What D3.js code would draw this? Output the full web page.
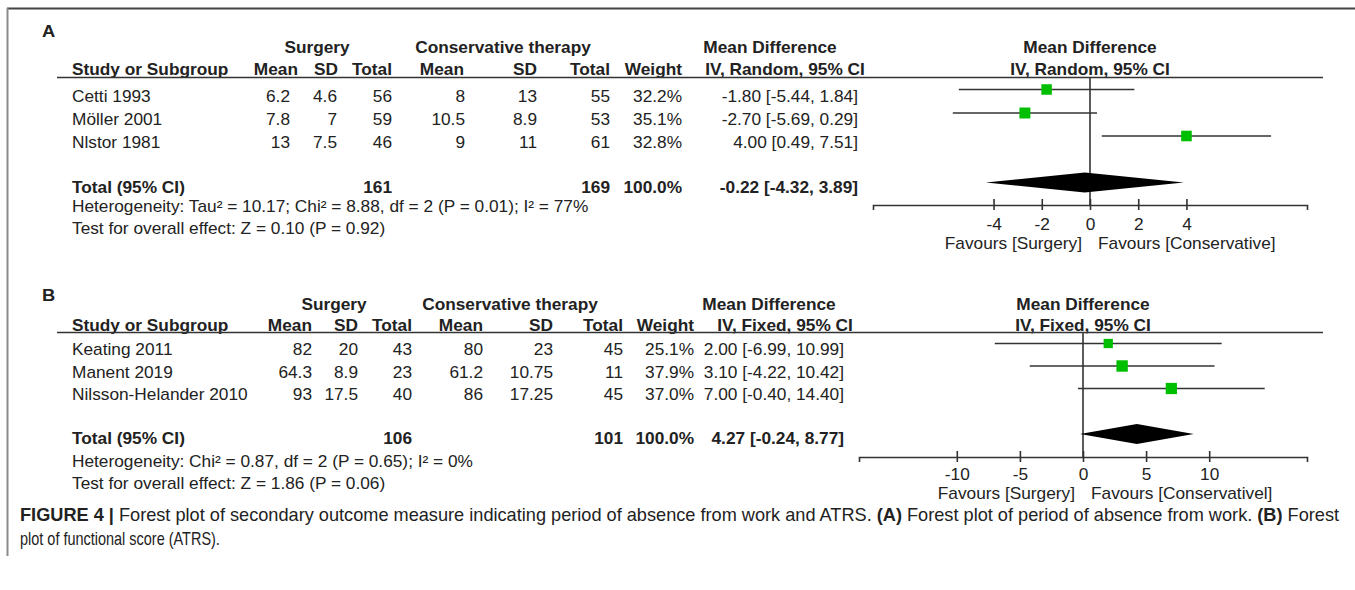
<!DOCTYPE html>
<html>
<head>
<meta charset="utf-8">
<script src="https://cdn.jsdelivr.net/npm/d3@7"></script>
<style>
  body { margin: 0; background: #fff; }
  svg { display: block; }
  text { font-family: "Liberation Sans", Arial, Helvetica, sans-serif; fill: #222; }
</style>
</head>
<body>
<svg id="chart" width="1355" height="590"></svg>
<script>
// ---------- Panel A: period of absence from work ----------
const studiesA   = ["Cetti 1993", "Möller 2001", "Nlstor 1981"];
const surgMeanA  = [6.2, 7.8, 13];
const surgSdA    = [4.6, 7, 7.5];
const surgNA     = [56, 59, 46];
const consMeanA  = [8, 10.5, 9];
const consSdA    = [13, 8.9, 11];
const consNA     = [55, 53, 61];
const weightA    = [32.2, 35.1, 32.8];
const mdA        = [-1.80, -2.70, 4.00];
const loA        = [-5.44, -5.69, 0.49];
const hiA        = [1.84, 0.29, 7.51];
const totalNA    = [161, 169];          // surgery, conservative
const pooledA    = [-0.22, -4.32, 3.89]; // estimate, lower, upper
const ticksA     = [-4, -2, 0, 2, 4];
const methodA    = "IV, Random, 95% CI";
const hetA       = "Heterogeneity: Tau² = 10.17; Chi² = 8.88, df = 2 (P = 0.01); I² = 77%";
const effectA    = "Test for overall effect: Z = 0.10 (P = 0.92)";
const favoursA   = ["Favours [Surgery]", "Favours [Conservative]"];

// ---------- Panel B: functional score (ATRS) ----------
const studiesB   = ["Keating 2011", "Manent 2019", "Nilsson-Helander 2010"];
const surgMeanB  = [82, 64.3, 93];
const surgSdB    = [20, 8.9, 17.5];
const surgNB     = [43, 23, 40];
const consMeanB  = [80, 61.2, 86];
const consSdB    = [23, 10.75, 17.25];
const consNB     = [45, 11, 45];
const weightB    = [25.1, 37.9, 37.0];
const mdB        = [2.00, 3.10, 7.00];
const loB        = [-6.99, -4.22, -0.40];
const hiB        = [10.99, 10.42, 14.40];
const totalNB    = [106, 101];
const pooledB    = [4.27, -0.24, 8.77];
const ticksB     = [-10, -5, 0, 5, 10];
const methodB    = "IV, Fixed, 95% CI";
const hetB       = "Heterogeneity: Chi² = 0.87, df = 2 (P = 0.65); I² = 0%";
const effectB    = "Test for overall effect: Z = 1.86 (P = 0.06)";
const favoursB   = ["Favours [Surgery]", "Favours [Conservativel]"];

// ---------- layout ----------
const SX = 1.08;   // slight horizontal stretch of the lettering
const FS = 16;
const INK = "#222";
const LINE = "#333";
const BOX = "#00bf00";

const svg = d3.select("#chart");

function label(g, x, y, s, anchor = "start", bold = false, size = FS) {
  return g.append("text")
    .attr("transform", `translate(${x},${y}) scale(${SX},1)`)
    .attr("text-anchor", anchor)
    .attr("font-size", size)
    .attr("font-weight", bold ? "bold" : "normal")
    .text(s);
}

// plain hyphen-minus for negatives, two decimals
const f2 = v => (v < 0 ? "-" : "") + Math.abs(v).toFixed(2);
const ci = (m, l, h) => `${f2(m)} [${f2(l)}, ${f2(h)}]`;

function drawPanel(d, c) {
  const g = svg.append("g");
  const x = d3.scaleLinear().domain(c.domain).range(c.range);
  const x0 = x(0);

  // panel letter
  label(g, c.letterX, c.letterY, c.letter, "start", true, 17).attr("fill", "#000");

  // group headings
  label(g, c.surgHead, c.head1Y, "Surgery", "middle", true);
  label(g, c.consHead, c.head1Y, "Conservative therapy", "middle", true);
  label(g, c.mdHead, c.head1Y, "Mean Difference", "middle", true);
  label(g, x0, c.head1Y, "Mean Difference", "middle", true);

  // column headings
  label(g, c.studyX, c.head2Y, "Study or Subgroup", "start", true);
  label(g, c.hMean1, c.head2Y, "Mean", "end", true);
  label(g, c.hSd1, c.head2Y, "SD", "end", true);
  label(g, c.colN1, c.head2Y, "Total", "end", true);
  label(g, c.hMean2, c.head2Y, "Mean", "end", true);
  label(g, c.colSd2, c.head2Y, "SD", "end", true);
  label(g, c.colN2, c.head2Y, "Total", "end", true);
  label(g, c.colW, c.head2Y, "Weight", "end", true);
  label(g, c.mdSub, c.head2Y, d.method, "middle", true);
  label(g, x0, c.head2Y, d.method, "middle", true);

  // heading rule
  g.append("line")
    .attr("x1", c.ruleX[0]).attr("x2", c.ruleX[1])
    .attr("y1", c.ruleY).attr("y2", c.ruleY)
    .attr("stroke", LINE).attr("stroke-width", 1.6);

  // study rows
  d.studies.forEach((s, i) => {
    const y = c.rowY[i];
    label(g, c.studyX, y, s);
    label(g, c.colMean1, y, String(d.surgMean[i]), "end");
    label(g, c.colSd1, y, String(d.surgSd[i]), "end");
    label(g, c.colN1, y, String(d.surgN[i]), "end");
    label(g, c.colMean2, y, String(d.consMean[i]), "end");
    label(g, c.colSd2, y, String(d.consSd[i]), "end");
    label(g, c.colN2, y, String(d.consN[i]), "end");
    label(g, c.colW, y, d.weight[i].toFixed(1) + "%", "end");
    label(g, c.colMd, y, ci(d.md[i], d.lo[i], d.hi[i]), "end");
  });

  // totals
  label(g, c.studyX, c.totalY, "Total (95% CI)", "start", true);
  label(g, c.colN1, c.totalY, String(d.totalN[0]), "end", true);
  label(g, c.colN2, c.totalY, String(d.totalN[1]), "end", true);
  label(g, c.colW, c.totalY, "100.0%", "end", true);
  label(g, c.colMd, c.totalY, ci(d.pooled[0], d.pooled[1], d.pooled[2]), "end", true);
  label(g, c.studyX, c.hetY, d.het);
  label(g, c.studyX, c.effectY, d.effect);

  // line of no effect
  g.append("line")
    .attr("x1", x0).attr("x2", x0)
    .attr("y1", c.ruleY).attr("y2", c.axisY)
    .attr("stroke", LINE).attr("stroke-width", 1.6);

  // confidence intervals and weighted boxes
  const rows = d.studies.map((s, i) => ({ md: d.md[i], lo: d.lo[i], hi: d.hi[i], w: d.weight[i], y: c.rowY[i] + c.markDy }));
  g.selectAll(".ci").data(rows).join("line")
    .attr("x1", r => x(r.lo)).attr("x2", r => x(r.hi))
    .attr("y1", r => r.y).attr("y2", r => r.y)
    .attr("stroke", LINE).attr("stroke-width", 1.6);
  const side = w => Math.sqrt(w) * 1.85;
  g.selectAll(".box").data(rows).join("rect")
    .attr("x", r => x(r.md) - side(r.w) / 2)
    .attr("y", r => r.y - side(r.w) / 2)
    .attr("width", r => side(r.w)).attr("height", r => side(r.w))
    .attr("fill", BOX);

  // pooled diamond
  const dy = c.totalY + c.diamDy, h = 10;
  const [pm, pl, ph] = d.pooled;
  g.append("path")
    .attr("d", `M${x(pl)},${dy}L${x(pm)},${dy - h}L${x(ph)},${dy}L${x(pm)},${dy + h}Z`)
    .attr("fill", "#000");

  // axis
  const axis = d3.axisBottom(x).tickValues(d.ticks).tickSizeOuter(0).tickSize(5);
  const ag = g.append("g").attr("transform", `translate(0,${c.axisY})`).call(axis)
    .attr("font-family", null).attr("font-size", null);
  ag.select(".domain").attr("stroke", LINE).attr("stroke-width", 1.6);
  ag.selectAll(".tick line").attr("y1", -6).attr("y2", 5).attr("stroke", LINE).attr("stroke-width", 1.6);
  ag.selectAll(".tick text")
    .attr("y", null).attr("dy", null)
    .attr("transform", `translate(0,${c.tickY - c.axisY}) scale(${SX},1)`)
    .attr("font-size", FS).attr("fill", INK)
    .text(v => (v < 0 ? "-" : "") + Math.abs(v));

  label(g, x0 - 8, c.favY, d.favours[0], "end");
  label(g, x0 + 8, c.favY, d.favours[1], "start");
}

// frame
svg.append("line").attr("x1", 7).attr("x2", 1355).attr("y1", 8.5).attr("y2", 8.5)
  .attr("stroke", "#444").attr("stroke-width", 2);
svg.append("line").attr("x1", 7.5).attr("x2", 7.5).attr("y1", 8).attr("y2", 556)
  .attr("stroke", "#8a8a8a").attr("stroke-width", 2);

drawPanel(
  { studies: studiesA, surgMean: surgMeanA, surgSd: surgSdA, surgN: surgNA,
    consMean: consMeanA, consSd: consSdA, consN: consNA, weight: weightA,
    md: mdA, lo: loA, hi: hiA, totalN: totalNA, pooled: pooledA, ticks: ticksA,
    method: methodA, het: hetA, effect: effectA, favours: favoursA },
  { letter: "A", letterX: 42, letterY: 37,
    head1Y: 53, head2Y: 75, ruleY: 77.5, ruleX: [57, 1323],
    rowY: [101.5, 125, 148], totalY: 192.5, hetY: 212, effectY: 234,
    studyX: 72, surgHead: 317, consHead: 503, mdHead: 770, mdSub: 785,
    hMean1: 298, hSd1: 338, colMean1: 290, colSd1: 337, colN1: 392,
    hMean2: 464, colMean2: 465, colSd2: 537, colN2: 610, colW: 682, colMd: 858,
    domain: [-9, 9], range: [873, 1307], axisY: 205, tickY: 230, favY: 248.5,
    markDy: -12, diamDy: -10 });

drawPanel(
  { studies: studiesB, surgMean: surgMeanB, surgSd: surgSdB, surgN: surgNB,
    consMean: consMeanB, consSd: consSdB, consN: consNB, weight: weightB,
    md: mdB, lo: loB, hi: hiB, totalN: totalNB, pooled: pooledB, ticks: ticksB,
    method: methodB, het: hetB, effect: effectB, favours: favoursB },
  { letter: "B", letterX: 42, letterY: 301,
    head1Y: 310, head2Y: 330.5, ruleY: 332.5, ruleX: [57, 1323],
    rowY: [355, 377.5, 400], totalY: 444, hetY: 466.5, effectY: 488.5,
    studyX: 72, surgHead: 334, consHead: 510, mdHead: 769, mdSub: 785,
    hMean1: 312, hSd1: 358, colMean1: 312, colSd1: 358, colN1: 412,
    hMean2: 483, colMean2: 483, colSd2: 553, colN2: 623, colW: 694, colMd: 844,
    domain: [-17.75, 17.75], range: [859, 1307], axisY: 457, tickY: 480, favY: 499,
    markDy: -11.5, diamDy: -10 });

// caption: narrow lettering, each line squeezed to its width
const cap = svg.append("g").attr("font-size", 17.5);
const c1 = cap.append("text");
c1.append("tspan").attr("font-weight", "bold").text("FIGURE 4 |");
c1.append("tspan").text(" Forest plot of secondary outcome measure indicating period of absence from work and ATRS. ");
c1.append("tspan").attr("font-weight", "bold").text("(A)");
c1.append("tspan").text(" Forest plot of period of absence from work. ");
c1.append("tspan").attr("font-weight", "bold").text("(B)");
c1.append("tspan").text(" Forest");
const c2 = cap.append("text").text("plot of functional score (ATRS).");
const sq1 = 1320 / c1.node().getComputedTextLength();
const sq2 = 200 / c2.node().getComputedTextLength();
c1.attr("transform", `translate(20,521) scale(${sq1},1)`);
c2.attr("transform", `translate(20,545) scale(${sq2},1)`);
</script>
</body>
</html>
